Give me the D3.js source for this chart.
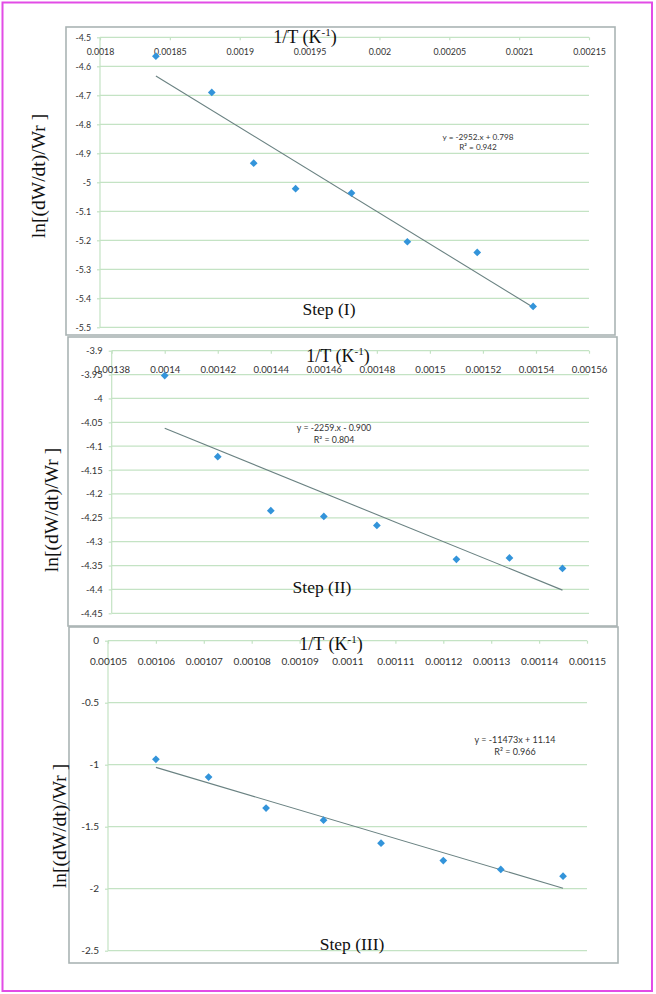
<!DOCTYPE html>
<html><head><meta charset="utf-8">
<script src="https://cdn.jsdelivr.net/npm/d3@7"></script>
<style>body{margin:0;background:#fff}svg{display:block}</style>
</head><body><svg id="c" width="656" height="994"></svg>
<script>
// ---------- data ----------
const step1X = [0.00184, 0.00188, 0.00191, 0.00194, 0.00198, 0.00202, 0.00207, 0.00211];
const step1Y = [-4.565, -4.690, -4.934, -5.022, -5.037, -5.205, -5.242, -5.428];
const step2X = [0.00140, 0.00142, 0.00144, 0.00146, 0.00148, 0.00151, 0.00153, 0.00155];
const step2Y = [-3.952, -4.122, -4.235, -4.247, -4.266, -4.337, -4.334, -4.356];
const step3X = [0.00106, 0.001071, 0.001083, 0.001095, 0.001107, 0.00112, 0.001132, 0.001145];
const step3Y = [-0.957, -1.100, -1.350, -1.447, -1.633, -1.773, -1.845, -1.899];

const fit1 = [-2952, 0.798];
const fit2 = [-2259, -0.900];
const fit3 = [-11473, 11.14];

const eq1 = ["y = -2952.x + 0.798", "R² = 0.942"];
const eq2 = ["y = -2259.x - 0.900", "R² = 0.804"];
const eq3 = ["y = -11473x + 11.14", "R² = 0.966"];

const x1Ticks = [0.0018, 0.00185, 0.0019, 0.00195, 0.002, 0.00205, 0.0021, 0.00215];
const x1Labels = ["0.0018", "0.00185", "0.0019", "0.00195", "0.002", "0.00205", "0.0021", "0.00215"];
const y1Ticks = [-4.5, -4.6, -4.7, -4.8, -4.9, -5, -5.1, -5.2, -5.3, -5.4, -5.5];
const y1Labels = ["-4.5", "-4.6", "-4.7", "-4.8", "-4.9", "-5", "-5.1", "-5.2", "-5.3", "-5.4", "-5.5"];

const x2Ticks = [0.00138, 0.0014, 0.00142, 0.00144, 0.00146, 0.00148, 0.0015, 0.00152, 0.00154, 0.00156];
const x2Labels = ["0.00138", "0.0014", "0.00142", "0.00144", "0.00146", "0.00148", "0.0015", "0.00152", "0.00154", "0.00156"];
const y2Ticks = [-3.9, -3.95, -4, -4.05, -4.1, -4.15, -4.2, -4.25, -4.3, -4.35, -4.4, -4.45];
const y2Labels = ["-3.9", "-3.95", "-4", "-4.05", "-4.1", "-4.15", "-4.2", "-4.25", "-4.3", "-4.35", "-4.4", "-4.45"];

const x3Ticks = [0.00105, 0.00106, 0.00107, 0.00108, 0.00109, 0.0011, 0.00111, 0.00112, 0.00113, 0.00114, 0.00115];
const x3Labels = ["0.00105", "0.00106", "0.00107", "0.00108", "0.00109", "0.0011", "0.00111", "0.00112", "0.00113", "0.00114", "0.00115"];
const y3Ticks = [0, -0.5, -1, -1.5, -2, -2.5];
const y3Labels = ["0", "-0.5", "-1", "-1.5", "-2", "-2.5"];

const stepNames = ["Step (I)", "Step (II)", "Step (III)"];
const yTitle = "ln[(dW/dt)/Wr ]";

// ---------- layout / style ----------
const GRID = "#c4e3c4";
const BOX = "#aab4b4";
const MARK = "#3394da";
const TREND = "#6a8282";

const svg = d3.select("#c");
svg.append("rect").attr("x", 0).attr("y", 0).attr("width", 656).attr("height", 994).attr("fill", "#fff");
svg.append("rect").attr("x", 2.5).attr("y", 2.5).attr("width", 649.5).attr("height", 988.5)
  .attr("fill", "none").attr("stroke", "#e24ce6").attr("stroke-width", 2);

function panel(o) {
  const g = svg.append("g");
  g.append("rect").attr("x", o.box[0]).attr("y", o.box[1])
    .attr("width", o.box[2] - o.box[0]).attr("height", o.box[3] - o.box[1])
    .attr("fill", "#fff").attr("stroke", BOX).attr("stroke-width", 1.6);

  const x = d3.scaleLinear().domain([o.xt[0], o.xt[o.xt.length - 1]]).range([o.plot[0], o.plot[2]]);
  const y = d3.scaleLinear().domain([o.yt[0], o.yt[o.yt.length - 1]]).range([o.plot[1], o.plot[3]]);

  // gridlines
  g.append("g").selectAll("line").data(o.yt).join("line")
    .attr("x1", o.plot[0]).attr("x2", o.plot[2])
    .attr("y1", d => y(d)).attr("y2", d => y(d))
    .attr("stroke", GRID).attr("stroke-width", 1.2);
  // y axis line
  g.append("line").attr("x1", o.plot[0]).attr("x2", o.plot[0])
    .attr("y1", o.plot[1]).attr("y2", o.plot[3]).attr("stroke", GRID).attr("stroke-width", 1.2);

  // y axis
  const ya = g.append("g").attr("transform", `translate(${o.plot[0]},0)`)
    .call(d3.axisLeft(y).tickValues(o.yt).tickFormat((d, i) => o.yl[i]).tickSize(3).tickPadding(6));
  ya.select(".domain").remove();
  ya.selectAll(".tick line").attr("stroke", GRID).attr("stroke-width", 1.2);
  ya.selectAll(".tick text").attr("font-family", "Lato, 'Open Sans', sans-serif")
    .attr("font-size", o.yfs).attr("fill", "#333");

  // x axis at top
  const xa = g.append("g").attr("transform", `translate(0,${o.plot[1]})`)
    .call(d3.axisBottom(x).tickValues(o.xt).tickFormat((d, i) => o.xl[i]).tickSize(3).tickPadding(o.xpad));
  xa.select(".domain").remove();
  xa.selectAll(".tick line").attr("stroke", GRID).attr("stroke-width", 1.2);
  xa.selectAll(".tick text").attr("font-family", "Lato, 'Open Sans', sans-serif")
    .attr("font-size", o.xfs).attr("fill", "#333");

  // trendline
  const x0 = o.xs[0], x1 = o.xs[o.xs.length - 1];
  g.append("line").attr("x1", x(x0)).attr("y1", y(o.fit[0] * x0 + o.fit[1]))
    .attr("x2", x(x1)).attr("y2", y(o.fit[0] * x1 + o.fit[1]))
    .attr("stroke", TREND).attr("stroke-width", 1.1);

  // markers
  const sym = d3.symbol().type(d3.symbolSquare).size(30);
  g.append("g").selectAll("path").data(o.xs.map((v, i) => [v, o.ys[i]])).join("path")
    .attr("d", sym)
    .attr("transform", d => `translate(${x(d[0])},${y(d[1])}) rotate(45)`)
    .attr("fill", MARK);

  // title
  const t = g.append("text").attr("x", o.title[0]).attr("y", o.title[1]).attr("text-anchor", "middle")
    .attr("font-family", "'Liberation Serif', 'Times New Roman', serif").attr("font-size", 18).attr("fill", "#111");
  t.append("tspan").text("1/T (K");
  t.append("tspan").attr("font-size", 11).attr("dy", -7).text("-1");
  t.append("tspan").attr("dy", 7).text(")");

  // step
  g.append("text").attr("x", o.step[0]).attr("y", o.step[1]).attr("text-anchor", "middle")
    .attr("font-family", "'Liberation Serif', 'Times New Roman', serif").attr("font-size", 17.5).attr("fill", "#111")
    .text(o.stepName);

  // equation
  g.append("g").selectAll("text").data(o.eq).join("text")
    .attr("x", o.eqPos[0]).attr("y", (d, i) => o.eqPos[1] + i * o.eqGap)
    .attr("text-anchor", "middle").attr("font-family", "Lato, 'Open Sans', sans-serif")
    .attr("font-size", o.efs).attr("fill", "#333").text(d => d);

  // y title
  g.append("text").attr("transform", `translate(${o.ylab[0]},${o.ylab[1]}) rotate(-90)`)
    .attr("text-anchor", "middle")
    .attr("font-family", "'Liberation Serif', 'Times New Roman', serif").attr("font-size", 19.5).attr("fill", "#111")
    .text(yTitle);
}

panel({box: [66, 27, 615, 335], plot: [100, 37.3, 589, 327.3],
  xs: step1X, ys: step1Y, fit: fit1, eq: eq1,
  xt: x1Ticks, xl: x1Labels, yt: y1Ticks, yl: y1Labels,
  xfs: 8.8, yfs: 8.8, xpad: 8, efs: 8.2, eqPos: [478, 140], eqGap: 10,
  title: [305, 43], step: [329, 315], stepName: stepNames[0], ylab: [45, 176]});

panel({box: [68, 337, 617, 626], plot: [111.7, 350.7, 589, 613.3],
  xs: step2X, ys: step2Y, fit: fit2, eq: eq2,
  xt: x2Ticks, xl: x2Labels, yt: y2Ticks, yl: y2Labels,
  xfs: 9.6, yfs: 9.4, xpad: 12, efs: 8.8, eqPos: [334, 431], eqGap: 12,
  title: [338, 362], step: [322, 593], stepName: stepNames[1], ylab: [58, 510]});

panel({box: [69, 627, 618, 963], plot: [108, 640.7, 587, 950.7],
  xs: step3X, ys: step3Y, fit: fit3, eq: eq3,
  xt: x3Ticks, xl: x3Labels, yt: y3Ticks, yl: y3Labels,
  xfs: 10, yfs: 10, xpad: 14, efs: 9, eqPos: [515, 743], eqGap: 12,
  title: [331, 650], step: [352, 950], stepName: stepNames[2], ylab: [66, 826]});
</script>
</body></html>
